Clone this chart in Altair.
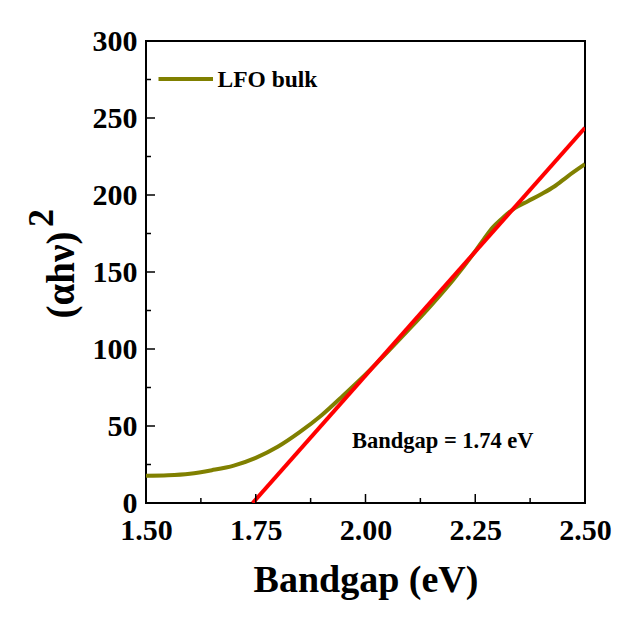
import altair as alt
import pandas as pd

# ---- data ----
energy = [1.50, 1.55, 1.60, 1.65, 1.70, 1.75, 1.80, 1.85, 1.90, 1.95, 2.00, 2.05,
          2.10, 2.15, 2.20, 2.25, 2.27, 2.29, 2.31, 2.34, 2.37, 2.40, 2.43, 2.46, 2.50]
ahv2 = [17.7, 18.0, 19.0, 21.3, 24.3, 29.3, 36.5, 46.0, 57.0, 70.0, 83.5, 98.0,
        113.0, 128.5, 145.0, 163.5, 171.5, 179.0, 184.5, 191.5, 196.0, 200.5, 205.5, 212.0, 220.0]

fit_x = [1.743, 2.50]
fit_y = [0.0, 243.7]

x_major = [1.50, 1.75, 2.00, 2.25, 2.50]
x_minor = [1.625, 1.875, 2.125, 2.375]
y_major = [0, 50, 100, 150, 200, 250, 300]
y_minor = [25, 75, 125, 175, 225, 275]

series_label = "LFO bulk"
annotation = "Bandgap = 1.74 eV"
x_title = "Bandgap (eV)"
y_title_main = "(αhν)"
y_title_sup = "2"

OLIVE = "#808000"
RED = "#FF0000"
FONT = "Liberation Serif"
W, H = 439, 462

xs = alt.Scale(domain=[1.5, 2.5], nice=False, zero=False)
ys = alt.Scale(domain=[0, 300], nice=False)

df = pd.DataFrame({"E": energy, "A": ahv2})
fit = pd.DataFrame({"E": fit_x, "A": fit_y})

x_axis = alt.Axis(values=x_major, format=".2f", title=x_title, ticks=False, domain=False,
                  grid=False, labelFont=FONT, labelFontWeight="bold", labelFontSize=30,
                  labelColor="black", labelPadding=12, titleFont=FONT, titleFontWeight="bold",
                  titleFontSize=38, titleColor="black", titleBaseline="alphabetic", titleY=88,
                  labelFlush=False)
y_axis = alt.Axis(values=y_major, format="d", title="", ticks=False, domain=False, grid=False,
                  labelFont=FONT, labelFontWeight="bold", labelFontSize=30, labelColor="black",
                  labelPadding=9, labelFlush=False)

curve = alt.Chart(df).mark_line(color=OLIVE, strokeWidth=4, interpolate="monotone", clip=True).encode(
    x=alt.X("E:Q", scale=xs, axis=x_axis),
    y=alt.Y("A:Q", scale=ys, axis=y_axis),
)

fitline = alt.Chart(fit).mark_line(color=RED, strokeWidth=4, clip=True).encode(
    x=alt.X("E:Q", scale=xs),
    y=alt.Y("A:Q", scale=ys),
)

# inward ticks
ymaj = alt.Chart(pd.DataFrame({"v": y_major})).mark_rule(color="black", strokeWidth=1.5).encode(
    y=alt.Y("v:Q", scale=ys), x=alt.value(0), x2=alt.value(9))
ymin = alt.Chart(pd.DataFrame({"v": y_minor})).mark_rule(color="black", strokeWidth=1.5).encode(
    y=alt.Y("v:Q", scale=ys), x=alt.value(0), x2=alt.value(5))
xmaj = alt.Chart(pd.DataFrame({"v": x_major})).mark_rule(color="black", strokeWidth=1.5).encode(
    x=alt.X("v:Q", scale=xs), y=alt.value(H), y2=alt.value(H - 9))
xmin = alt.Chart(pd.DataFrame({"v": x_minor})).mark_rule(color="black", strokeWidth=1.5).encode(
    x=alt.X("v:Q", scale=xs), y=alt.value(H), y2=alt.value(H - 5))

# legend
leg_line = alt.Chart(pd.DataFrame({"s": [series_label]})).mark_rule(color=OLIVE, strokeWidth=4).encode(
    x=alt.value(12.5), x2=alt.value(67), y=alt.value(38))
leg_text = alt.Chart(pd.DataFrame({"s": [series_label]})).mark_text(
    font=FONT, fontWeight="bold", fontSize=23.5, align="left", baseline="alphabetic", color="black"
).encode(text="s:N", x=alt.value(71.5), y=alt.value(45.5))

# annotation
ann = alt.Chart(pd.DataFrame({"s": [annotation]})).mark_text(
    font=FONT, fontWeight="bold", fontSize=22.5, align="left", baseline="alphabetic", color="black"
).encode(text="s:N", x=alt.value(206), y=alt.value(407))

# y title as rotated text with raised superscript
yt_main = alt.Chart(pd.DataFrame({"s": [y_title_main]})).mark_text(
    font=FONT, fontWeight="bold", fontSize=39, angle=270, align="center", baseline="alphabetic",
    color="black"
).encode(text="s:N", x=alt.value(-72), y=alt.value(234))
yt_sup = alt.Chart(pd.DataFrame({"s": [y_title_sup]})).mark_text(
    font=FONT, fontWeight="bold", fontSize=36, angle=270, align="center", baseline="alphabetic",
    color="black"
).encode(text="s:N", x=alt.value(-93.5), y=alt.value(177))

chart = alt.layer(
    curve, fitline, ymaj, ymin, xmaj, xmin, leg_line, leg_text, ann, yt_main, yt_sup
).properties(
    width=W, height=H,
    autosize=alt.AutoSizeParams(type="none"),
    padding={"left": 146, "top": 41, "right": 53, "bottom": 134},
    background="white",
).configure_view(stroke="black", strokeWidth=2)

chart.save("out.html", embed_options={"renderer": "svg", "actions": False})
